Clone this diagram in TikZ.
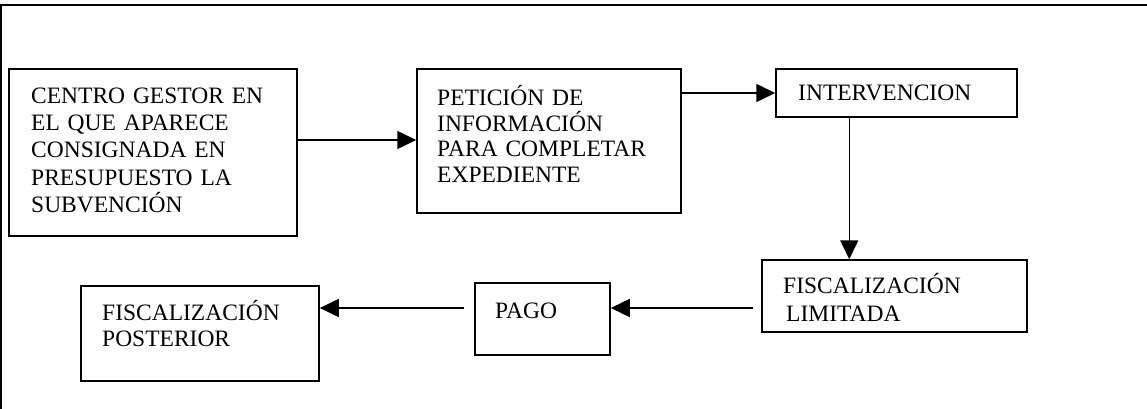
\documentclass[tikz,border=0pt]{standalone}
\usepackage{fontspec}
\setmainfont{Liberation Serif}
\usetikzlibrary{arrows.meta}
\begin{document}
\begin{tikzpicture}[x=1pt, y=-1pt,
    box/.style={draw, line width=1.5pt, inner sep=0pt},
    txt/.style={anchor=base west, inner sep=0pt, align=left, text width=300pt},
    flow/.style={line width=1.5pt, -{Triangle[length=19pt,width=18pt]}}]
    \useasboundingbox (0,0) rectangle (1147,409);
    \draw[line width=2pt] (1,409) -- (1,5) -- (1147,5);
    \node[box, minimum width=288pt, minimum height=167pt] (centro) at (153,152.5) {};
    \node[txt, font=\fontsize{23.5}{27.4}\selectfont] (centrotxt) at (31,103)
        {CENTRO GESTOR EN\\EL QUE APARECE\\CONSIGNADA EN\\PRESUPUESTO LA\\SUBVENCIÓN};
    \node[box, minimum width=264pt, minimum height=144pt] (peticion) at (549,141) {};
    \node[txt, font=\fontsize{23.5}{25.5}\selectfont] (peticiontxt) at (437,106)
        {PETICIÓN DE\\INFORMACIÓN\\PARA COMPLETAR\\EXPEDIENTE};
    \node[box, minimum width=241pt, minimum height=48pt] (interv) at (896.5,93) {};
    \node[txt, font=\fontsize{23.5}{27}\selectfont] (intervtxt) at (798,101) {INTERVENCION};
    \node[box, minimum width=265pt, minimum height=72pt] (fiscal) at (894.5,296) {};
    \node[txt, font=\fontsize{23.5}{28}\selectfont] (fiscaltxt) at (783,293.5)
        {FISCALIZACIÓN\\\hspace*{3pt}LIMITADA};
    \node[box, minimum width=135pt, minimum height=72pt] (pago) at (542.5,319) {};
    \node[txt, font=\fontsize{23.5}{27}\selectfont] (pagotxt) at (495,318) {PAGO};
    \node[box, minimum width=238pt, minimum height=95pt] (poster) at (200,333.5) {};
    \node[txt, font=\fontsize{23.5}{26}\selectfont] (postertxt) at (102,320.5)
        {FISCALIZACIÓN\\POSTERIOR};
    \coordinate (fiscalout) at ([xshift=-8pt,yshift=-12pt]fiscal.west);
    \coordinate (pagoout) at ([xshift=-10pt]pago.west |- fiscalout);
    \draw[flow] (centro.east |- 0,140) -- (peticion.west |- 0,140);
    \draw[flow] (peticion.east |- interv.west) -- (interv.west);
    \draw[flow] ([xshift=74pt]interv.south west) -- ([xshift=74pt]interv.south west |- fiscal.north);
    \draw[flow] (fiscalout) -- (fiscalout -| pago.east);
    \draw[flow] (pagoout) -- (pagoout -| poster.east);
\end{tikzpicture}
\end{document}
